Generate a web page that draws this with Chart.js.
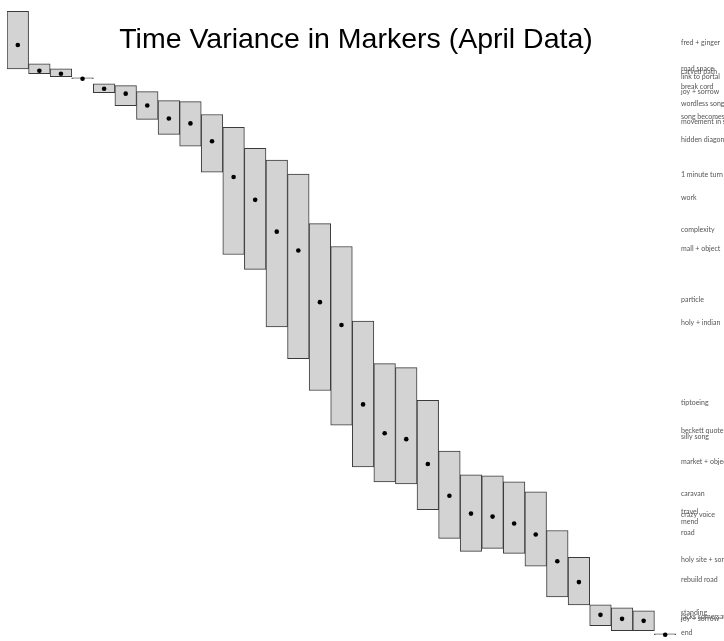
<!DOCTYPE html>
<html>
<head>
<meta charset="utf-8">
<script src="https://cdn.jsdelivr.net/npm/chart.js@4/dist/chart.umd.min.js"></script>
<style>
    body { margin: 0; background: #fff; }
    #wrap { width: 724px; height: 641px; position: relative; }
</style>
</head>
<body>
<div id="wrap"><canvas id="markers"></canvas></div>
<script>
// time in minutes from the start of the piece (top = 0)
const markers = ['fred + ginger', 'road space', 'carved path', 'link to portal', 'break cord', 'joy + sorrow',
    'wordless song', 'song becomes', 'movement in space', 'hidden diagonal', '1 minute turn', 'work',
    'complexity', 'mall + object', 'particle', 'holy + indian', 'tiptoeing', 'beckett quote', 'silly song',
    'market + object', 'caravan', 'travel', 'crazy voice', 'mend', 'road', 'holy site + song', 'rebuild road',
    'standing', 'jacks somersault', 'joy + sorrow', 'end'];
const earliest = [0.9, 6.2, 6.7, 7.7, 8.2, 8.4, 9.0, 9.9, 10.0, 11.3, 12.6, 14.7, 15.9, 17.3, 22.3, 24.6,
    32.1, 36.4, 36.8, 40.1, 45.2, 47.6, 47.7, 48.3, 49.3, 53.2, 55.9, 60.7, 61.0, 61.3, 63.7];
const latest = [6.7, 7.2, 7.5, 7.7, 9.1, 10.4, 11.8, 13.3, 14.5, 17.1, 25.4, 26.9, 32.7, 35.9, 39.1, 42.6,
    46.8, 48.3, 48.5, 51.1, 54.0, 55.3, 55.0, 55.5, 56.8, 59.9, 60.7, 62.8, 63.3, 63.3, 63.7];
const average = [4.3, 6.9, 7.2, 7.7, 8.7, 9.2, 10.4, 11.7, 12.2, 14.0, 17.6, 19.9, 23.1, 25.0, 30.2, 32.5,
    40.5, 43.4, 44.0, 46.5, 49.7, 51.5, 51.8, 52.5, 53.6, 56.3, 58.4, 61.7, 62.1, 62.3, 63.7];

const title = 'Time Variance in Markers (April Data)';

const textPlugin = {
    id: 'markerText',
    afterDraw(chart) {
        const ctx = chart.ctx;
        const y = chart.scales.y;
        ctx.save();
        ctx.fillStyle = '#000';
        ctx.font = '28.5px "Liberation Sans", Arial, sans-serif';
        ctx.textAlign = 'center';
        ctx.textBaseline = 'alphabetic';
        ctx.fillText(title, 356, 48);
        ctx.font = '7px Lato, sans-serif';
        ctx.fillStyle = '#555';
        ctx.textAlign = 'left';
        ctx.textBaseline = 'middle';
        markers.forEach((m, i) => {
            ctx.fillText(m, 681, y.getPixelForValue(average[i]) - 2);
        });
        ctx.restore();
    }
};

new Chart(document.getElementById('markers'), {
    type: 'bar',
    data: {
        labels: markers,
        datasets: [{
            type: 'line',
            data: average,
            showLine: false,
            pointRadius: 2.3,
            pointHoverRadius: 2.3,
            pointBackgroundColor: '#000',
            pointBorderColor: '#000',
            pointBorderWidth: 0,
            order: 0
        }, {
            data: earliest.map((v, i) => [v, latest[i]]),
            backgroundColor: '#d3d3d3',
            borderColor: '#3a3a3a',
            borderWidth: 1,
            borderSkipped: false,
            minBarLength: 1,
            barPercentage: 1,
            categoryPercentage: 1,
            order: 1
        }]
    },
    options: {
        responsive: true,
        maintainAspectRatio: false,
        animation: false,
        layout: { padding: { left: 7, right: 48, top: 0, bottom: 0 } },
        scales: {
            x: { display: false, offset: true },
            y: { display: false, reverse: true, min: 0, max: 64.1 }
        },
        plugins: {
            legend: { display: false },
            tooltip: { enabled: false }
        }
    },
    plugins: [textPlugin]
});
</script>
</body>
</html>
